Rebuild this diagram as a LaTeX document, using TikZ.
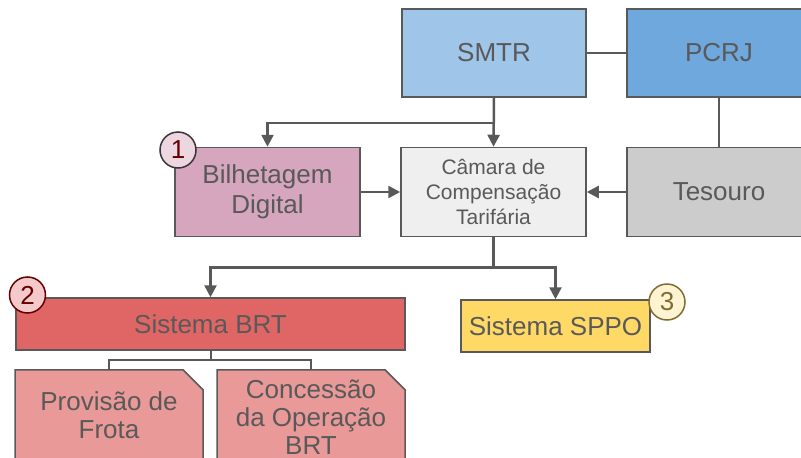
\documentclass[tikz,border=0pt]{standalone}
\usepackage{fontspec}
\setmainfont{Liberation Sans}
\usetikzlibrary{arrows.meta,shapes.misc}

\definecolor{ink}{HTML}{595959}
\definecolor{smtrblue}{HTML}{9FC5E8}
\definecolor{pcrjblue}{HTML}{6FA8DC}
\definecolor{camgray}{HTML}{EFEFEF}
\definecolor{tesgray}{HTML}{CCCCCC}
\definecolor{bilpink}{HTML}{D5A6BD}
\definecolor{brtred}{HTML}{E06666}
\definecolor{subred}{HTML}{EA9999}
\definecolor{sppoyel}{HTML}{FFD966}

\begin{document}
\begin{tikzpicture}[x=1pt,y=-1pt,
    box/.style={draw=ink,line width=1.5pt,text=ink,align=center,inner sep=0pt,
        font=\fontsize{26}{30}\selectfont},
    subbox/.style={box,chamfered rectangle,chamfered rectangle corners=north east,
        chamfered rectangle xsep=10pt,chamfered rectangle ysep=10pt,anchor=north,
        font=\fontsize{26}{28}\selectfont},
    badge/.style={circle,line width=1.5pt,minimum size=36pt,inner sep=0pt,
        font=\fontsize{26}{26}\selectfont},
    arr/.style={draw=ink,line width=2.5pt,-{Triangle[length=12pt,width=12pt]}},
    link/.style={draw=ink,line width=2pt}]
    \clip (0,0) rectangle (801,458);

    % top row
    \node[box,fill=smtrblue,minimum width=184pt,minimum height=88pt] (smtr) at (494,53) {SMTR};
    \node[box,fill=pcrjblue,minimum width=184pt,minimum height=88pt] (pcrj) at (719,53) {PCRJ};

    % middle row
    \node[box,fill=bilpink,minimum width=185pt,minimum height=89pt] (bilhet) at (267.5,192) {Bilhetagem\\Digital};
    \node[box,fill=camgray,minimum width=185pt,minimum height=89pt,
        font=\fontsize{21}{25}\selectfont] (camara) at (493.5,192) {Câmara de\\Compensação\\Tarifária};
    \node[box,fill=tesgray,minimum width=184pt,minimum height=89pt] (tesouro) at (719,192) {Tesouro};

    % bottom row
    \node[box,fill=brtred,minimum width=389pt,minimum height=52pt] (brt) at (210.5,324) {Sistema BRT};
    \node[box,fill=sppoyel,minimum width=189pt,minimum height=52pt] (sppo) at (555.5,326) {Sistema SPPO};
    \node[subbox,fill=subred,minimum width=188pt,minimum height=90pt] (frota) at (109,369) {Provisão de\\Frota};
    \node[subbox,fill=subred,minimum width=188pt,minimum height=90pt] (operacao) at (311,369) {Concessão\\da Operação\\BRT};

    % connectors
    \draw[link] (smtr) -- (pcrj);
    \draw[link] (pcrj.south) -- (tesouro.north);
    \draw[arr] (smtr.south) -- (camara.north);
    \draw[arr] (smtr.south) -- ++(0,25) -| (bilhet.north);
    \draw[arr] (bilhet) -- (camara);
    \draw[arr] (tesouro) -- (camara);
    \draw[arr] (camara.south) -- ++(0,30) -| (brt.north);
    \draw[arr] (camara.south) -- ++(0,30) -| (sppo.north);
    \draw[link] (brt.south) -- ++(0,9) -| (frota.north);
    \draw[link] (brt.south) -- ++(0,9) -| (operacao.north);

    % numbered badges
    \node[badge,draw=black!70!bilpink,fill=bilpink!45,text=red!40!black] (n1) at (178,150) {1};
    \node[badge,draw=red!40!black,fill=brtred!35,text=red!40!black] (n2) at (27.5,295) {2};
    \node[badge,draw=sppoyel!50!black,fill=sppoyel!30,text=sppoyel!50!black] (n3) at (667,302) {3};
\end{tikzpicture}
\end{document}
